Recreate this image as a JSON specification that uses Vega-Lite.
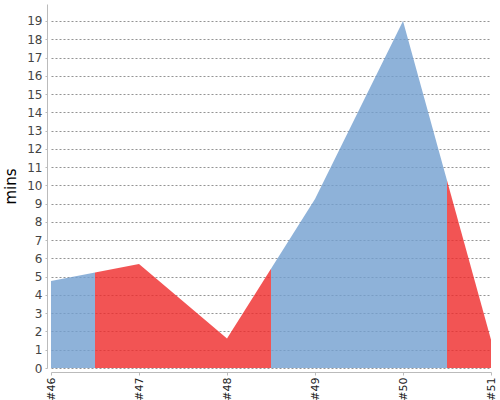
{
  "$schema": "https://vega.github.io/schema/vega-lite/v6.json",
  "autosize": "none",
  "padding": {"left": 51, "top": 4, "right": 9, "bottom": 32},
  "width": 440,
  "height": 364,
  "background": "white",
  "config": {"view": {"stroke": null}, "font": "DejaVu Sans"},
  "data": {
    "values": [
      {"build": 46, "mins": 4.76, "seg": "a", "result": "success"},
      {"build": 46.5, "mins": 5.23, "seg": "a", "result": "success"},
      {"build": 46.5, "mins": 5.23, "seg": "b", "result": "failure"},
      {"build": 47, "mins": 5.7, "seg": "b", "result": "failure"},
      {"build": 48, "mins": 1.62, "seg": "b", "result": "failure"},
      {"build": 48.5, "mins": 5.44, "seg": "b", "result": "failure"},
      {"build": 48.5, "mins": 5.44, "seg": "c", "result": "success"},
      {"build": 49, "mins": 9.25, "seg": "c", "result": "success"},
      {"build": 50, "mins": 19.0, "seg": "c", "result": "success"},
      {"build": 50.5, "mins": 10.27, "seg": "c", "result": "success"},
      {"build": 50.5, "mins": 10.27, "seg": "d", "result": "failure"},
      {"build": 51, "mins": 1.55, "seg": "d", "result": "failure"}
    ]
  },
  "mark": {"type": "area", "opacity": 0.8, "interpolate": "linear"},
  "encoding": {
    "x": {
      "field": "build",
      "type": "quantitative",
      "scale": {"domain": [46, 51], "nice": false, "zero": false},
      "axis": {
        "values": [46, 47, 48, 49, 50, 51],
        "labelExpr": "'#' + datum.value",
        "labelAngle": 270,
        "labelFontSize": 11,
        "labelColor": "#222222",
        "labelPadding": 2,
        "grid": false,
        "offset": 4,
        "domainColor": "#bbbbbb",
        "tickColor": "#bbbbbb",
        "tickSize": 3,
        "title": null
      }
    },
    "y": {
      "field": "mins",
      "type": "quantitative",
      "stack": null,
      "scale": {"domain": [0, 19.93], "nice": false},
      "axis": {
        "values": [0, 1, 2, 3, 4, 5, 6, 7, 8, 9, 10, 11, 12, 13, 14, 15, 16, 17, 18, 19],
        "labelFontSize": 12,
        "labelColor": "#444444",
        "labelPadding": 3,
        "offset": 4,
        "domainColor": "#bbbbbb",
        "tickColor": "#bbbbbb",
        "tickSize": 2,
        "grid": true,
        "gridColor": "#666666",
        "gridDash": [2, 2],
        "gridWidth": 0.7,
        "title": "mins",
        "titleFontSize": 15,
        "titleFontWeight": 500,
        "titleColor": "#000000",
        "titlePadding": 8
      }
    },
    "detail": {"field": "seg"},
    "color": {
      "field": "result",
      "type": "nominal",
      "scale": {"domain": ["success", "failure"], "range": ["#729FCF", "#EF2929"]},
      "legend": null
    }
  }
}
